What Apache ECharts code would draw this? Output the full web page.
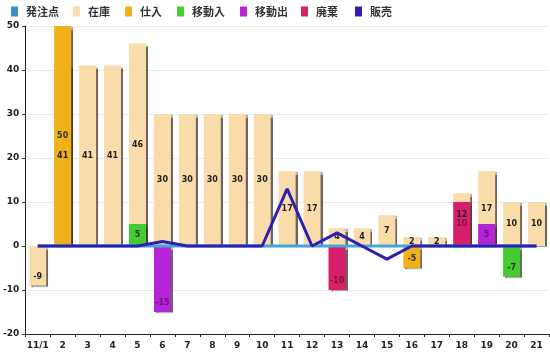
<!DOCTYPE html>
<html>
<head>
<meta charset="utf-8">
<script src="https://cdn.jsdelivr.net/npm/echarts@6/dist/echarts.min.js"></script>
<style>
  html, body { margin: 0; padding: 0; background: #fff; }
  #chart { width: 550px; height: 353px; }
</style>
</head>
<body>
<div id="chart"></div>
<script>
// categories (days)
const days = ['11/1', '2', '3', '4', '5', '6', '7', '8', '9', '10', '11', '12', '13', '14', '15', '16', '17', '18', '19', '20', '21'];

// series values
const reorderPoint = [0, 0, 0, 0, 0, 0, 0, 0, 0, 0, 0, 0, 0, 0, 0, 0, 0, 0, 0, 0, 0];
const stock = [-9, 41, 41, 41, 46, 30, 30, 30, 30, 30, 17, 17, 4, 4, 7, 2, 2, 12, 17, 10, 10];
const purchase = [null, 50, null, null, null, null, null, null, null, null, null, null, null, null, null, -5, null, null, null, null, null];
const transferIn = [null, null, null, null, 5, null, null, null, null, null, null, null, null, null, null, null, null, null, null, -7, null];
const transferOut = [null, null, null, null, null, -15, null, null, null, null, null, null, null, null, null, null, null, null, 5, null, null];
const disposal = [null, null, null, null, null, null, null, null, null, null, null, null, -10, null, null, null, null, 10, null, null, null];
const sales = [0, 0, 0, 0, 0, 1, 0, 0, 0, 0, 13, 0, 3, 0, -3, 0, 0, 0, 0, 0, 0];

// y axis ticks
const yMin = -20;
const yMax = 50;
const yStep = 10;

const numFont = 'DejaVu Sans';
const jpFont = '"Noto Sans CJK JP", sans-serif';

// legend entries: name, colour, text x position
const legendItems = [
  ['発注点', '#3a8fcf', 23],
  ['在庫', '#fadcab', 85],
  ['仕入', '#f0b01a', 137],
  ['移動入', '#44cc33', 189],
  ['移動出', '#b524d6', 252],
  ['廃棄', '#d81f6b', 313],
  ['販売', '#2e1fb0', 367],
];
const colorOf = Object.fromEntries(legendItems.map(d => [d[0], d[1]]));

// labels nudged so they do not collide (series name -> index -> px offset)
const labelNudge = { '在庫': { 17: [0, -5] } };

function barSeries(name, data, labelColor) {
  const nudge = labelNudge[name] || {};
  return {
    name: name,
    type: 'bar',
    data: data.map((v, i) => {
      if (v === null) return null;
      const label = v < 0 ? { position: 'insideBottom', distance: 5 } : { position: 'inside' };
      if (nudge[i]) label.offset = nudge[i];
      return { value: v, label: label };
    }),
    barWidth: 17,
    barGap: '-100%',
    itemStyle: {
      color: colorOf[name],
      shadowColor: 'rgba(60,50,40,0.75)',
      shadowOffsetX: 2,
      shadowOffsetY: 1,
      shadowBlur: 1,
    },
    label: {
      show: true,
      color: labelColor,
      fontFamily: numFont,
      fontWeight: 'bold',
      fontSize: 8,
    },
    emphasis: { disabled: true },
  };
}

const chart = echarts.init(document.getElementById('chart'));

chart.setOption({
  animation: false,
  legend: legendItems.map(d => ({
    data: [d[0]],
    left: d[2] - 12,
    top: 6,
    padding: 0,
    icon: 'rect',
    itemWidth: 7,
    itemHeight: 10,
    textStyle: {
      fontFamily: jpFont,
      fontWeight: 'bold',
      fontSize: 11,
      color: '#333',
      padding: [0, 0, 0, 3],
    },
  })),
  grid: { left: 24, right: 1, top: 26, bottom: 19 },
  xAxis: {
    type: 'category',
    data: days,
    position: 'bottom',
    axisLine: { onZero: false, lineStyle: { color: '#222', width: 1 } },
    axisTick: { show: true, length: 3, lineStyle: { color: '#222' } },
    axisLabel: {
      color: '#222',
      fontFamily: numFont,
      fontWeight: 'bold',
      fontSize: 9,
      margin: 7,
      interval: 0,
    },
  },
  yAxis: {
    type: 'value',
    min: yMin,
    max: yMax,
    interval: yStep,
    axisLine: { show: true, lineStyle: { color: '#222', width: 1 } },
    axisTick: { show: true, length: 3, lineStyle: { color: '#222' } },
    axisLabel: {
      color: '#222',
      fontFamily: numFont,
      fontWeight: 'bold',
      fontSize: 9,
      margin: 6,
    },
    splitLine: { lineStyle: { color: '#ebebeb', width: 1 } },
  },
  series: [
    barSeries('在庫', stock, '#222'),
    barSeries('仕入', purchase, '#333'),
    barSeries('移動入', transferIn, '#333'),
    barSeries('移動出', transferOut, '#6a1388'),
    barSeries('廃棄', disposal, '#7e1240'),
    {
      name: '発注点',
      type: 'line',
      data: reorderPoint,
      symbol: 'none',
      z: 3,
      lineStyle: { color: '#45a7d8', width: 3 },
      itemStyle: { color: colorOf['発注点'] },
      emphasis: { disabled: true },
    },
    {
      name: '販売',
      type: 'line',
      data: sales,
      symbol: 'none',
      z: 4,
      lineStyle: { color: colorOf['販売'], width: 3 },
      itemStyle: { color: colorOf['販売'] },
      emphasis: { disabled: true },
    },
  ],
});
</script>
</body>
</html>
